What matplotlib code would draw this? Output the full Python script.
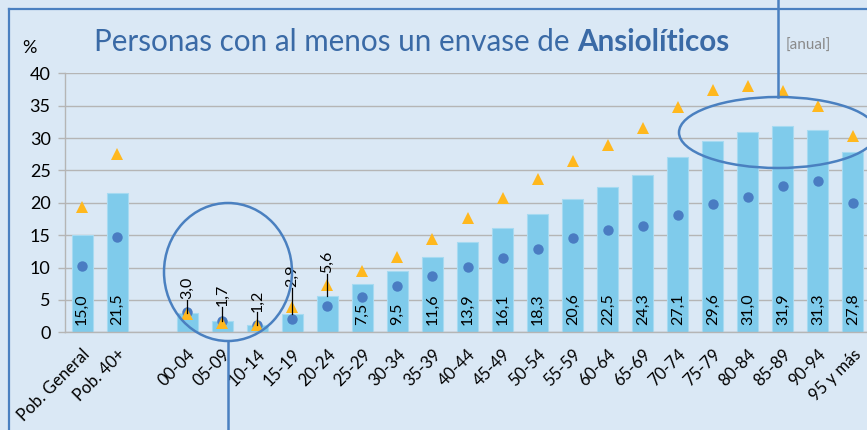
import matplotlib
matplotlib.use("Agg")
import matplotlib.pyplot as plt
from matplotlib.patches import Ellipse
from matplotlib.lines import Line2D
import numpy as np

plt.rcParams['font.family'] = ['Lato', 'DejaVu Sans']

categories = ["Pob. General", "Pob. 40+", "", "00-04", "05-09", "10-14", "15-19", "20-24",
              "25-29", "30-34", "35-39", "40-44", "45-49", "50-54", "55-59", "60-64",
              "65-69", "70-74", "75-79", "80-84", "85-89", "90-94", "95 y más"]
bar_values = [15.0, 21.5, None, 3.0, 1.7, 1.2, 2.9, 5.6, 7.5, 9.5, 11.6, 13.9, 16.1,
              18.3, 20.6, 22.5, 24.3, 27.1, 29.6, 31.0, 31.9, 31.3, 27.8]
circle_values = [10.2, 14.7, None, 3.2, 1.7, 1.1, 2.0, 4.0, 5.5, 7.2, 8.7, 10.1, 11.5,
                 12.9, 14.5, 15.8, 16.4, 18.1, 19.8, 20.9, 22.6, 23.3, 19.9]
triangle_values = [19.4, 27.5, None, 2.8, 1.5, 1.2, 3.95, 7.3, 9.4, 11.7, 14.4, 17.7, 20.7,
                   23.6, 26.4, 28.9, 31.5, 34.8, 37.4, 38.0, 37.3, 35.0, 30.3]
yticks = [0, 5, 10, 15, 20, 25, 30, 35, 40]

BG = "#dae8f5"
BAR = "#7fcbeb"
DOT = "#4a7cc2"
TRI = "#ffb81e"
FRAME = "#4a80c0"
TITLE_C = "#3a6aa6"

W, H = 867, 430
fig = plt.figure(figsize=(W / 100, H / 100), dpi=100, facecolor=BG)
ax = fig.add_axes([64.5 / W, (H - 332.3) / H, 806 / W, (332.3 - 73.3) / H])
ax.set_facecolor(BG)

x = np.arange(len(categories))
bx = [i for i, v in zip(x, bar_values) if v is not None]
bv = [v for v in bar_values if v is not None]
cx = [i for i, v in zip(x, circle_values) if v is not None]
cv = [v for v in circle_values if v is not None]
tx = [i for i, v in zip(x, triangle_values) if v is not None]
tv = [v for v in triangle_values if v is not None]

ax.bar(bx, bv, width=0.6, color=BAR, edgecolor="#a6daf1", linewidth=0.8, zorder=2)
ax.plot(cx, cv, 'o', color=DOT, markersize=7.5, zorder=3, markeredgewidth=0)
ax.plot(tx, tv, '^', color=TRI, markersize=9, zorder=4, markeredgewidth=0)

# value labels
small_offset = {3.0: 2.0, 1.7: 2.2, 1.2: 1.9, 2.9: 4.0, 5.6: 3.4}
for i, v in zip(bx, bv):
    lab = f"{v:.1f}".replace('.', ',')
    if v < 6:
        top = v + small_offset.get(v, 2.5)
        ax.plot([i, i], [v, top], color="black", linewidth=0.9, zorder=5)
        ax.text(i, top + 0.1, lab, rotation=90, ha='center', va='bottom',
                fontsize=11.5, color="black", zorder=6)
    else:
        ax.annotate(lab, (i, 0), xytext=(0, 5), textcoords='offset points',
                    rotation=90, ha='center', va='bottom', fontsize=11.5,
                    color="black", zorder=6)

ax.set_xlim(-0.5, len(categories) - 0.5)
ax.set_ylim(0, 40)
ax.set_yticks(yticks)
ax.set_yticklabels([str(t) for t in yticks], fontsize=13)
ax.set_xticks(x)
ax.set_xticklabels(categories, rotation=45, ha='right', va='top', fontsize=12,
                   rotation_mode='anchor')
ax.tick_params(axis='x', length=0, pad=10)
ax.tick_params(axis='y', length=5, color="#b5b5b5", width=1, pad=5)
ax.grid(axis='y', color="#b5b5b5", linewidth=1, zorder=0)
ax.set_axisbelow(True)
for s in ['top', 'right']:
    ax.spines[s].set_visible(False)
ax.spines['left'].set_color("#b5b5b5")
ax.spines['bottom'].set_color("#b5b5b5")
ax.spines['left'].set_linewidth(1)
ax.spines['bottom'].set_linewidth(1)

# title
t1 = fig.text(94 / W, 1 - 42 / H, "Personas con al menos un envase de ", fontsize=21.3,
              color=TITLE_C, ha='left', va='center')
fig.canvas.draw()
r = fig.canvas.get_renderer()
bb = t1.get_window_extent(r)
fig.text(bb.x1 / W, 1 - 42 / H, "Ansiolíticos", fontsize=21.3, color=TITLE_C,
         fontweight='bold', ha='left', va='center')
fig.text(786 / W, 1 - 46 / H, "[anual]", fontsize=11, color="#8a8a8a",
         ha='left', va='center')
fig.text(22 / W, 1 - 48 / H, "%", fontsize=13, color="black", ha='left', va='center')

# frame lines and annotations (figure pixel coords)
def fx(px):
    return px / W

def fy(py):
    return 1 - py / H

fig.add_artist(Line2D([fx(9), fx(W)], [fy(9), fy(9)], color=FRAME, linewidth=1.6))
fig.add_artist(Line2D([fx(9), fx(9)], [fy(9), fy(H)], color=FRAME, linewidth=1.6))
fig.add_artist(Ellipse((fx(228), fy(272)), 2 * 64 / W, 2 * 69 / H, fill=False,
                       edgecolor=FRAME, linewidth=1.8, transform=fig.transFigure))
fig.add_artist(Line2D([fx(228), fx(228)], [fy(341), fy(H)], color=FRAME, linewidth=1.8))
fig.add_artist(Ellipse((fx(778), fy(132.5)), 2 * 99 / W, 2 * 35.5 / H, fill=False,
                       edgecolor=FRAME, linewidth=1.8, transform=fig.transFigure))
fig.add_artist(Line2D([fx(778), fx(778)], [fy(0), fy(97)], color=FRAME, linewidth=1.8))

fig.savefig("out.png", dpi=100, facecolor=BG)
